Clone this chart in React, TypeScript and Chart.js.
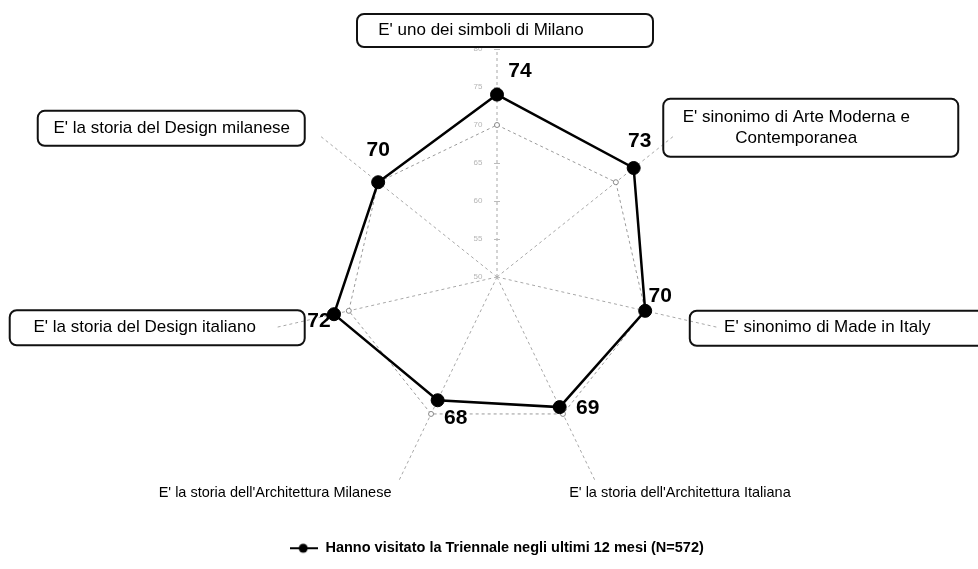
import React, { useEffect, useRef } from "react";
import { Chart, registerables } from "chart.js";

Chart.register(...registerables);

// ---- DATA ----
const categories: string[][] = [
  ["E' uno dei simboli di Milano"],
  ["E' sinonimo di Arte Moderna e", "Contemporanea"],
  ["E' sinonimo di Made in Italy"],
  ["E' la storia dell'Architettura Italiana"],
  ["E' la storia dell'Architettura Milanese"],
  ["E' la storia del Design italiano"],
  ["E' la storia del Design milanese"],
];
const visitorValues = [74, 73, 70, 69, 68, 72, 70];
const comparisonValues = [70, 70, 70, 70, 70, 70, 70];
const seriesName = "Hanno visitato la Triennale negli ultimi 12 mesi (N=572)";
const tickValues = [50, 55, 60, 65, 70, 75, 80];

// ---- LAYOUT / STYLE (relative to the end of each axis line) ----
type Box = { dx: number; dy: number; w: number; h: number } | null;
const labelLayout: { box: Box; tx: number; ty: number }[] = [
  { box: { dx: 8, dy: -18.5, w: 296, h: 33 }, tx: -16, ty: -19 },
  { box: { dx: 135.5, dy: -7, w: 295, h: 58 }, tx: 121, ty: -7 },
  { box: { dx: 120.5, dy: 0.5, w: 300, h: 35 }, tx: 108, ty: 0 },
  { box: null, tx: 84, ty: 11 },
  { box: null, tx: -123, ty: 11 },
  { box: { dx: -117.5, dy: 0, w: 295, h: 35 }, tx: -130, ty: 0 },
  { box: { dx: -147.5, dy: -6.5, w: 267, h: 35 }, tx: -147, ty: -7 },
];
const valueLabelOffsets: [number, number][] = [
  [23, -23],
  [6, -27],
  [15, -15],
  [28, 1],
  [18, 18],
  [-15, 7],
  [0, -32],
];
const FONT = "'Liberation Sans', Arial, sans-serif";

export default function App() {
  const ref = useRef<HTMLCanvasElement>(null);

  useEffect(() => {
    document.body.style.margin = "0";
    const canvas = ref.current!;

    const marker = document.createElement("canvas");
    marker.width = 28;
    marker.height = 14;
    const mctx = marker.getContext("2d")!;
    mctx.strokeStyle = "#000";
    mctx.lineWidth = 2;
    mctx.beginPath();
    mctx.moveTo(0, 7);
    mctx.lineTo(28, 7);
    mctx.stroke();
    mctx.fillStyle = "#000";
    mctx.beginPath();
    mctx.arc(13, 7, 4.5, 0, Math.PI * 2);
    mctx.fill();

    const decorations = {
      id: "decorations",
      beforeDatasetsDraw(chart: any) {
        const scale = chart.scales.r;
        const ctx = chart.ctx;
        ctx.save();
        ctx.font = `8px ${FONT}`;
        ctx.fillStyle = "#b5b5b5";
        ctx.textAlign = "center";
        ctx.textBaseline = "middle";
        ctx.strokeStyle = "#bbb";
        ctx.lineWidth = 1;
        tickValues.forEach((v) => {
          const y = scale.yCenter - scale.getDistanceFromCenterForValue(v);
          ctx.fillText(String(v), scale.xCenter - 19, y);
          ctx.beginPath();
          ctx.moveTo(scale.xCenter - 3, Math.round(y) + 0.5);
          ctx.lineTo(scale.xCenter + 3, Math.round(y) + 0.5);
          ctx.stroke();
        });
        ctx.restore();
      },
      afterDraw(chart: any) {
        const scale = chart.scales.r;
        const ctx = chart.ctx;
        ctx.save();
        // category labels
        categories.forEach((lines, i) => {
          const end = scale.getPointPosition(i, scale.drawingArea);
          const lay = labelLayout[i];
          if (lay.box) {
            const b = lay.box;
            ctx.strokeStyle = "#111";
            ctx.lineWidth = 2;
            ctx.beginPath();
            (ctx as any).roundRect(end.x + b.dx - b.w / 2, end.y + b.dy - b.h / 2, b.w, b.h, 7);
            ctx.stroke();
          }
          ctx.font = lay.box ? `17px ${FONT}` : `14.5px ${FONT}`;
          ctx.fillStyle = "#000";
          ctx.textAlign = "center";
          ctx.textBaseline = "middle";
          const lh = 21;
          const cx = end.x + lay.tx;
          const cy = end.y + lay.ty - ((lines.length - 1) * lh) / 2;
          lines.forEach((t, k) => ctx.fillText(t, cx, cy + k * lh));
        });
        // value labels
        const meta = chart.getDatasetMeta(0);
        ctx.font = `bold 21px ${FONT}`;
        ctx.fillStyle = "#000";
        meta.data.forEach((pt: any, i: number) => {
          const [ox, oy] = valueLabelOffsets[i];
          ctx.fillText(String(visitorValues[i]), pt.x + ox, pt.y + oy);
        });
        ctx.restore();
      },
    };

    const chart = new Chart(canvas, {
      type: "radar",
      data: {
        labels: categories,
        datasets: [
          {
            label: seriesName,
            data: visitorValues,
            borderColor: "#000",
            borderWidth: 2.5,
            pointRadius: 6.5,
            pointBackgroundColor: "#000",
            pointBorderColor: "#000",
            pointBorderWidth: 1,
            fill: false,
            tension: 0,
            order: 0,
          },
          {
            label: "confronto",
            data: comparisonValues,
            borderColor: "#9a9a9a",
            borderWidth: 1,
            borderDash: [3, 3],
            pointRadius: 2.5,
            pointBackgroundColor: "#fff",
            pointBorderColor: "#888",
            pointBorderWidth: 1,
            fill: false,
            tension: 0,
            order: 1,
          },
        ],
      },
      options: {
        animation: false,
        responsive: true,
        maintainAspectRatio: false,
        layout: { padding: { top: 49, left: 16, right: 0, bottom: 3.5 } },
        scales: {
          r: {
            min: 50,
            max: 80,
            ticks: { display: false, stepSize: 5, showLabelBackdrop: false },
            grid: { display: false },
            angleLines: { display: true, color: "#a8a8a8", lineWidth: 1, borderDash: [3, 3] },
            pointLabels: { display: false },
          },
        },
        plugins: {
          tooltip: { enabled: false },
          legend: {
            position: "bottom",
            labels: {
              usePointStyle: true,
              pointStyleWidth: 28,
              padding: 36,
              color: "#000",
              font: { family: FONT, size: 14.5, weight: "bold" },
              generateLabels: () => [
                {
                  text: seriesName,
                  pointStyle: marker as any,
                  fillStyle: "#000",
                  strokeStyle: "#000",
                  lineWidth: 0,
                  hidden: false,
                  datasetIndex: 0,
                  fontColor: "#000",
                },
              ],
            },
          },
        },
      } as any,
      plugins: [decorations],
    });
    return () => chart.destroy();
  }, []);

  return (
    <div style={{ position: "fixed", left: 0, top: 0, width: 978, height: 569, background: "#fff" }}>
      <canvas ref={ref} />
    </div>
  );
}
